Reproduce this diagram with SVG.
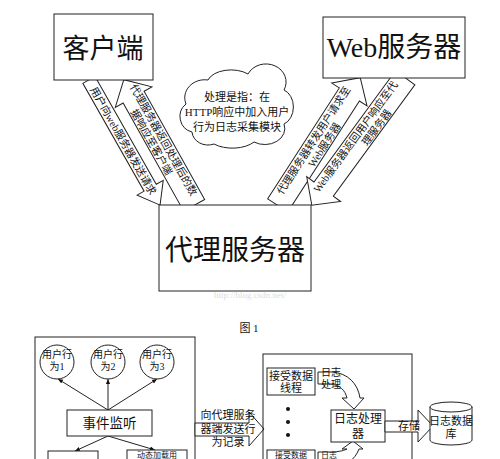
<svg xmlns="http://www.w3.org/2000/svg" width="500" height="459" viewBox="0 0 500 459">
<style>
.t{font-family:"Liberation Serif","Noto Sans CJK SC",serif;fill:#111}
.big{font-size:28px;text-anchor:middle}
.s{font-size:10.5px;text-anchor:middle}
.m{font-size:11px;text-anchor:middle}
.blk{fill:#fff;stroke:#222;stroke-width:1}
.ln{fill:none;stroke:#222;stroke-width:1}
.box{fill:#fff;stroke:#222;stroke-width:1}
.cut{font-size:8px;text-anchor:middle}
</style>
<defs>
<marker id="ah" viewBox="0 0 6 6" refX="6" refY="3" markerWidth="5" markerHeight="5" orient="auto"><path d="M0,0.5 L6,3 L0,5.5 Z" fill="#111"/></marker>
</defs>
<rect width="500" height="459" fill="#fff"/>

<g id="connectors">
  <g id="a1" transform="translate(124.5,142.5) rotate(60.4)">
    <polygon class="blk" points="-72,-7 52,-7 52,-15 72,0 52,15 52,7 -72,7"/>
    <text class="t s" x="-2" y="4">用户向web服务器发送请求</text>
  </g>
  <g id="a2" transform="translate(159,142.5) rotate(60.75)">
    <polygon class="blk" points="72,-12 -52,-12 -52,-21 -72,0 -52,21 -52,12 72,12"/>
    <text class="t s" x="0" y="-1.5">代理服务器返回处理后的数</text>
    <text class="t s" x="-4" y="10">据响应至客户端</text>
  </g>
  <g id="a3" transform="translate(319,141.5) rotate(-57.15)">
    <polygon class="blk" points="-76,-12 56,-12 56,-21 76,0 56,21 56,12 -76,12"/>
    <text class="t s" x="-2" y="-1.5">代理服务器转发用户请求至</text>
    <text class="t s" x="0" y="10">Web服务器</text>
  </g>
  <g id="a4" transform="translate(358.5,141.5) rotate(-53.78)">
    <polygon class="blk" points="79,-12 -59,-12 -59,-21 -79,0 -59,21 -59,12 79,12"/>
    <text class="t s" x="2" y="-1.5">Web服务器返回用户响应至代</text>
    <text class="t s" x="22" y="10">理服务器</text>
  </g>
  <line class="ln" x1="108" y1="410" x2="58" y2="379" marker-end="url(#ah)"/>
  <line class="ln" x1="108" y1="410" x2="108" y2="379" marker-end="url(#ah)"/>
  <line class="ln" x1="108" y1="410" x2="157" y2="379" marker-end="url(#ah)"/>
  <line class="ln" x1="108" y1="436" x2="75" y2="451" marker-end="url(#ah)"/>
  <line class="ln" x1="108" y1="436" x2="155" y2="450" marker-end="url(#ah)"/>
</g>

<g id="client">
  <rect class="box" x="54" y="14" width="99" height="66"/>
  <text class="t big" x="103" y="58" style="font-size:27px">客户端</text>
</g>
<g id="web">
  <rect class="box" x="323" y="17" width="142" height="61"/>
  <text class="t big" x="394" y="57">Web服务器</text>
</g>
<g id="proxy">
  <rect class="box" x="159" y="205" width="152" height="86"/>
  <text class="t big" x="235" y="260">代理服务器</text>
</g>
<text class="t" x="250" y="298" style="font-size:9px;text-anchor:middle;fill:#dcdcdc">http://blog.csdn.net/</text>

<g id="cloud">
  <path class="blk" d="M192,132 a16,16 0 0 1 -6,-28 a20,18 0 0 1 22,-24 a24,14 0 0 1 40,-6 a20,18 0 0 1 36,16 a14,18 0 0 1 0,34 a20,16 0 0 1 -30,18 a26,14 0 0 1 -40,2 a16,14 0 0 1 -22,-12 Z"/>
  <text class="t m" x="237" y="101">处理是指：在</text>
  <text class="t m" x="237" y="116">HTTP响应中加入用户</text>
  <text class="t m" x="237" y="131">行为日志采集模块</text>
</g>

<text class="t" x="249" y="332" style="font-size:11px;text-anchor:middle">图 1</text>

<g id="left-panel">
  <rect class="ln" x="35" y="337" width="160" height="140"/>
</g>
<g id="b1"><circle class="box" cx="57" cy="362" r="17"/><text class="t s" x="57" y="358" style="font-size:10px">用户行</text><text class="t s" x="57" y="370" style="font-size:10px">为1</text></g>
<g id="b2"><circle class="box" cx="108" cy="362" r="17"/><text class="t s" x="108" y="358" style="font-size:10px">用户行</text><text class="t s" x="108" y="370" style="font-size:10px">为2</text></g>
<g id="b3"><circle class="box" cx="157" cy="362" r="17"/><text class="t s" x="157" y="358" style="font-size:10px">用户行</text><text class="t s" x="157" y="370" style="font-size:10px">为3</text></g>
<g id="listen">
  <rect class="box" x="67" y="410" width="85" height="26"/>
  <text class="t" x="109.5" y="428" style="font-size:13.5px;text-anchor:middle">事件监听</text>
</g>
<g id="lbox1"><rect class="box" x="48" y="451" width="50" height="20"/></g>
<g id="lbox2"><rect class="box" x="127" y="450" width="60" height="20"/><text class="t cut" x="157" y="458">动态加载用</text></g>

<g id="send">
  <polygon class="blk" points="195,423 249,423 249,412 264,429 249,446 249,436 195,436"/>
  <text class="t m" x="228" y="419">向代理服务</text>
  <text class="t m" x="228" y="433">器端发送行</text>
  <text class="t m" x="228" y="446">为记录</text>
</g>

<g id="mid-panel">
  <rect class="ln" x="263" y="354" width="149" height="130"/>
</g>
<g id="recv1">
  <rect class="box" x="267" y="368" width="48" height="27"/>
  <text class="t m" x="291" y="380">接受数据</text>
  <text class="t m" x="291" y="392">线程</text>
</g>
<g id="dots">
  <circle cx="288" cy="409" r="2" fill="#111"/>
  <circle cx="288" cy="422" r="2" fill="#111"/>
  <circle cx="288" cy="435" r="2" fill="#111"/>
</g>
<g id="recv2">
  <rect class="box" x="267" y="450" width="48" height="20"/>
  <text class="t cut" x="291" y="458">接受数据</text>
</g>
<g id="proc-in1">
  <path class="blk" d="M318,372 L332,372 C348,373 358,384 360,398 L364,398 L354,409 L342,398 L347,398 C345,390 340,385 330,384 L318,384 Z"/>
  <text class="t" x="331" y="376" style="font-size:10px;text-anchor:middle">日志</text>
  <text class="t" x="331" y="388" style="font-size:10px;text-anchor:middle">处理</text>
</g>
<g id="proc-in2">
  <path class="blk" d="M318,452 L330,452 C340,452 345,450 347,449 L342,449 L353,441 L363,449 L359,449 C355,460 345,467 330,467 L318,467 Z"/>
  <text class="t cut" x="329" y="458">日志</text>
</g>
<g id="logproc">
  <rect class="box" x="331" y="410" width="54" height="32"/>
  <text class="t" x="358" y="423" style="font-size:12px;text-anchor:middle">日志处理</text>
  <text class="t" x="358" y="438" style="font-size:12px;text-anchor:middle">器</text>
</g>
<g id="store">
  <polygon class="blk" points="385,421 418,421 418,410 433,426 418,442 418,432 385,432"/>
  <text class="t m" x="409" y="430">存储</text>
</g>
<g id="db">
  <path class="box" d="M430,407 V440 A21,5 0 0 0 472,440 V407"/>
  <ellipse class="box" cx="451" cy="407" rx="21" ry="5"/>
  <text class="t m" x="451" y="425">日志数据</text>
  <text class="t m" x="451" y="438">库</text>
</g>
</svg>
